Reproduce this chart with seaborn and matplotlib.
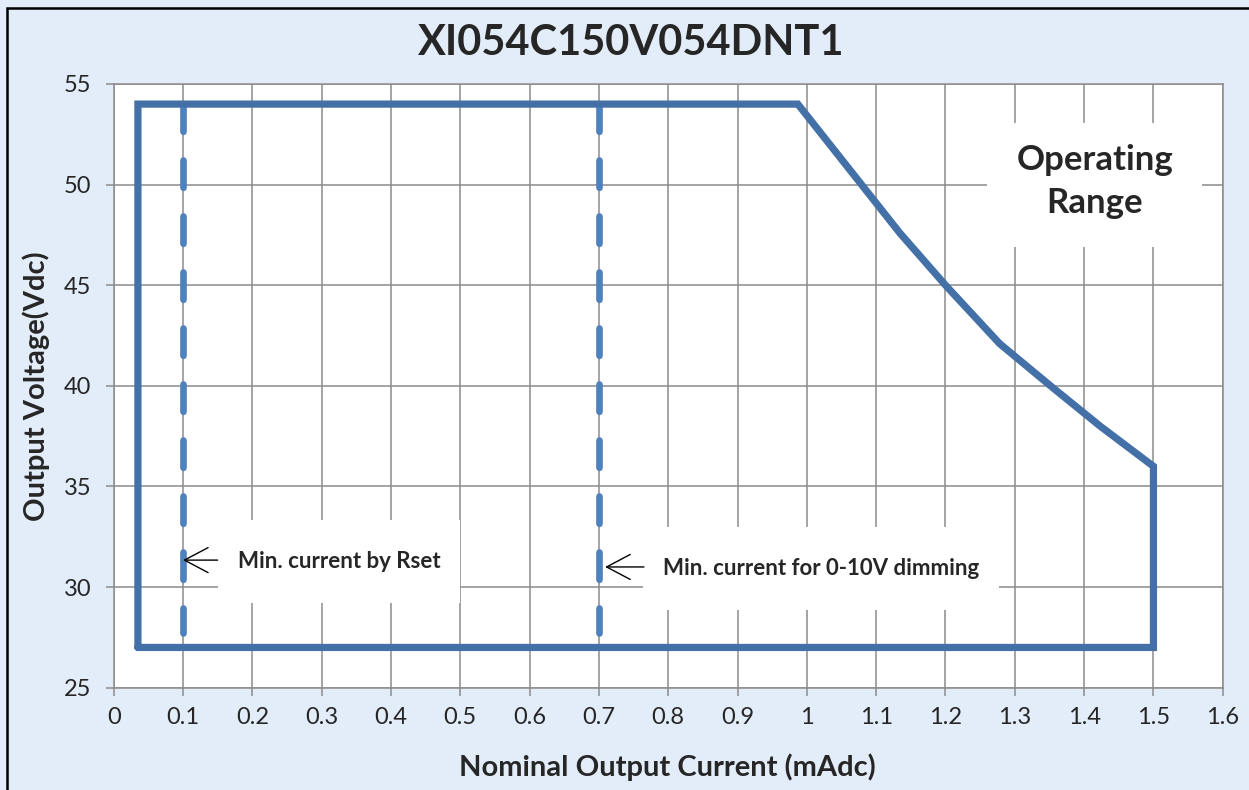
import matplotlib
matplotlib.use("Agg")
import matplotlib.pyplot as plt
import seaborn as sns
from matplotlib.patches import Rectangle

# Operating range outline (current in mAdc, voltage in Vdc)
outline_current = [0.035, 0.035, 0.987, 1.134, 1.2, 1.278, 1.355, 1.423, 1.5, 1.5, 0.035]
outline_voltage = [27, 54, 54, 47.6, 45.0, 42.1, 39.9, 38.0, 36, 27, 27]

# Minimum current markers
min_rset_current = [0.1, 0.1]
min_dim_current = [0.7, 0.7]
marker_voltage = [54, 27.7]

x_ticks = [0, 0.1, 0.2, 0.3, 0.4, 0.5, 0.6, 0.7, 0.8, 0.9, 1.0, 1.1, 1.2, 1.3, 1.4, 1.5, 1.6]
x_tick_labels = ['0', '0.1', '0.2', '0.3', '0.4', '0.5', '0.6', '0.7', '0.8', '0.9',
                 '1', '1.1', '1.2', '1.3', '1.4', '1.5', '1.6']
y_ticks = [25, 30, 35, 40, 45, 50, 55]

title = 'XI054C150V054DNT1'
x_label = 'Nominal Output Current (mAdc)'
y_label = 'Output Voltage(Vdc)'

outline_color = '#4470a8'
dash_color = '#4f81bd'
grid_color = '#8c8c8c'
bg_color = '#e3edf9'


def main():
    sns.set_theme(style='whitegrid')
    plt.rcParams['font.family'] = ['Lato', 'DejaVu Sans']

    fig = plt.figure(figsize=(12.49, 7.90), dpi=100, facecolor=bg_color)
    ax = fig.add_axes([0.091, 0.1295, 0.888, 0.7642])
    ax.set_facecolor('white')

    # outer frame of the chart (only top/left visible)
    fig.patches.append(Rectangle((0.0058, -0.1), 1.2, 0.1 + 0.9905, transform=fig.transFigure,
                                 fill=False, edgecolor='black', lw=1.8))

    ax.set_axisbelow(True)
    ax.grid(True, color=grid_color, lw=1.1)
    for s in ax.spines.values():
        s.set_color(grid_color)
        s.set_linewidth(1.1)

    sns.lineplot(x=outline_current, y=outline_voltage, sort=False, estimator=None,
                 color=outline_color, lw=5.2, solid_joinstyle='miter', ax=ax, zorder=4)
    for xs in (min_rset_current, min_dim_current):
        sns.lineplot(x=xs, y=marker_voltage, sort=False, estimator=None,
                     color=dash_color, lw=4.8, linestyle=(0, (4.1, 4.3)),
                     dash_capstyle='round', ax=ax, zorder=3)

    # white label boxes covering the grid
    for (x0, x1, y0, y1) in [(0.150, 0.499, 29.2, 33.33),
                             (0.7634, 1.277, 28.86, 33.0),
                             (1.2596, 1.5697, 46.91, 53.05)]:
        ax.add_patch(Rectangle((x0, y0), x1 - x0, y1 - y0, facecolor='white',
                               edgecolor='none', zorder=1.5))

    ax.text(0.1793, 31.26, 'Min. current by Rset', fontsize=16, fontweight='bold',
            ha='left', va='center', zorder=5)
    ax.text(0.7928, 30.93, 'Min. current for 0-10V dimming', fontsize=16, fontweight='bold',
            ha='left', va='center', zorder=5)
    ax.text(1.4155, 50.15, 'Operating\nRange', fontsize=25, fontweight='bold',
            ha='center', va='center', linespacing=1.45, zorder=5)

    arrow = dict(arrowstyle='->,head_length=0.85,head_width=0.45', color='black',
                 lw=1.0, mutation_scale=20, shrinkA=0, shrinkB=0)
    ax.annotate('', xy=(0.1, 31.34), xytext=(0.15, 31.34), arrowprops=arrow, zorder=5)
    ax.annotate('', xy=(0.709, 31.0), xytext=(0.765, 31.0), arrowprops=arrow, zorder=5)

    ax.set_xlim(0, 1.6)
    ax.set_ylim(25, 55)
    ax.set_xticks(x_ticks)
    ax.set_xticklabels(x_tick_labels)
    ax.set_yticks(y_ticks)
    ax.tick_params(axis='both', which='major', labelsize=17, length=6, width=1.1,
                   color=grid_color, direction='out', bottom=True, left=True)
    ax.tick_params(axis='x', pad=8)
    ax.tick_params(axis='y', pad=10)

    ax.set_xlabel(x_label, fontsize=21, fontweight='bold', va='center')
    ax.xaxis.set_label_coords(0.499, -0.131)
    ax.set_ylabel(y_label, fontsize=21, fontweight='bold', va='center')
    ax.yaxis.set_label_coords(-0.0694, 0.5)

    fig.text(0.505, 0.9456, title, fontsize=30, fontweight='bold', ha='center', va='center')

    fig.savefig('out.png', dpi=100, facecolor=bg_color)
    plt.close(fig)


if __name__ == '__main__':
    main()
